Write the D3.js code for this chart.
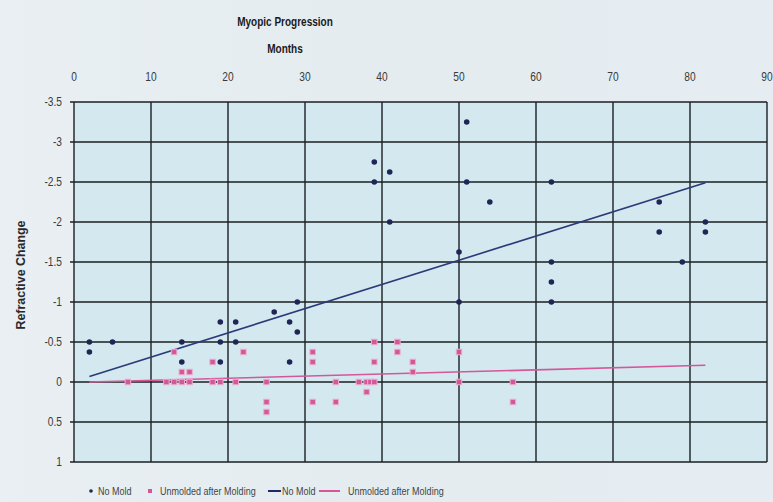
<!DOCTYPE html>
<html>
<head>
<meta charset="utf-8">
<script src="https://cdn.jsdelivr.net/npm/d3@7"></script>
<style>
  body {
    margin: 0;
    background: #e7eef2;
  }
  svg text {
    font-family: "Liberation Sans", Arial, sans-serif;
  }
</style>
</head>
<body>
<div id="chart"></div>
<script>
const monthTicks = [0, 10, 20, 30, 40, 50, 60, 70, 80, 90];
const changeTicks = [-3.5, -3, -2.5, -2, -1.5, -1, -0.5, 0, 0.5, 1];

// No Mold scatter
const noMoldMonths = [2, 2, 5, 14, 14, 19, 19, 19, 21, 21, 26, 28, 28, 29, 29,
  39, 39, 41, 41, 50, 50, 51, 51, 54, 62, 62, 62, 62, 76, 76, 79, 82, 82];
const noMoldChange = [-0.5, -0.375, -0.5, -0.5, -0.25, -0.75, -0.5, -0.25, -0.75, -0.5, -0.875, -0.75, -0.25, -1.0, -0.625,
  -2.75, -2.5, -2.625, -2.0, -1.625, -1.0, -3.25, -2.5, -2.25, -2.5, -1.5, -1.25, -1.0, -2.25, -1.875, -1.5, -2.0, -1.875];

// Unmolded after Molding scatter
const unmoldedMonths = [7, 12, 13, 13, 14, 14, 15, 15, 18, 18, 19, 21, 22, 25, 25, 25,
  31, 31, 31, 34, 34, 37, 38, 38.5, 39, 38, 39, 39, 42, 42, 44, 44, 50, 50, 57, 57];
const unmoldedChange = [0, 0, -0.375, 0, -0.125, 0, -0.125, 0, -0.25, 0, 0, 0, -0.375, 0, 0.25, 0.375,
  -0.375, -0.25, 0.25, 0, 0.25, 0, 0, 0, 0, 0.125, -0.5, -0.25, -0.5, -0.375, -0.25, -0.125, -0.375, 0, 0, 0.25];

// trend lines (start / end as drawn)
const noMoldTrendMonths = [2, 82];
const noMoldTrendChange = [-0.07, -2.49];
const unmoldedTrendMonths = [2, 82];
const unmoldedTrendChange = [0.0, -0.21];

const legendLabels = ["No Mold", "Unmolded after Molding", "No Mold", "Unmolded after Molding"];

const navy = "#1e2656";
const pink = "#d4579a";

// narrow text: the source font is a condensed sans, squeeze it horizontally
function narrowText(parent, x, y, str, size, anchor, weight, fill, sx) {
  return parent.append("text")
    .attr("transform", `translate(${x},${y}) scale(${sx || 0.8},1)`)
    .attr("text-anchor", anchor || "start")
    .style("font-size", size + "px")
    .style("font-weight", weight || "normal")
    .attr("fill", fill || "#3a3a3a")
    .text(str);
}

function init() {
  const W = 773, H = 502;
  const plot = { left: 74, right: 767, top: 102, bottom: 462 };

  const svg = d3.select("#chart")
    .append("svg")
    .attr("width", W)
    .attr("height", H);

  const defs = svg.append("defs");
  const grad = defs.append("linearGradient")
    .attr("id", "bg")
    .attr("x1", 0).attr("x2", 1).attr("y1", 0).attr("y2", 0);
  grad.append("stop").attr("offset", "0%").attr("stop-color", "#e9eff3");
  grad.append("stop").attr("offset", "50%").attr("stop-color", "#e4ecf0");
  grad.append("stop").attr("offset", "100%").attr("stop-color", "#e6edf2");
  svg.append("rect").attr("width", W).attr("height", H).attr("fill", "url(#bg)");

  const xScale = d3.scaleLinear().domain([0, 90]).range([plot.left, plot.right]);
  const yScale = d3.scaleLinear().domain([-3.5, 1]).range([plot.top, plot.bottom]);

  // plot area
  svg.append("rect")
    .attr("x", plot.left)
    .attr("y", plot.top)
    .attr("width", plot.right - plot.left)
    .attr("height", plot.bottom - plot.top)
    .attr("fill", "#d4e8ef");

  // grid
  svg.append("g")
    .selectAll("line")
    .data(monthTicks)
    .enter()
    .append("line")
    .attr("x1", (d) => xScale(d))
    .attr("x2", (d) => xScale(d))
    .attr("y1", plot.top)
    .attr("y2", plot.bottom)
    .attr("stroke", "#1b1f22")
    .attr("stroke-width", 1.4);

  svg.append("g")
    .selectAll("line")
    .data(changeTicks)
    .enter()
    .append("line")
    .attr("x1", plot.left - 4)
    .attr("x2", plot.right)
    .attr("y1", (d) => yScale(d))
    .attr("y2", (d) => yScale(d))
    .attr("stroke", "#1b1f22")
    .attr("stroke-width", 1.4);

  // tick labels
  const xLabels = svg.append("g");
  monthTicks.forEach((d) => narrowText(xLabels, xScale(d), 81, d, 12, "middle", "normal", "#3a3a3a", 0.85));

  const yLabels = svg.append("g");
  changeTicks.forEach((d) => narrowText(yLabels, 62, yScale(d) + 4, d, 12, "end", "normal", "#3a3a3a", 0.85));

  // titles
  narrowText(svg, 285, 26, "Myopic Progression", 13, "middle", "bold", "#1a1a1a", 0.77);
  narrowText(svg, 285, 53, "Months", 13, "middle", "bold", "#1a1a1a", 0.77);

  svg.append("text")
    .attr("transform", "translate(25, 275) rotate(-90) scale(0.92,1)")
    .attr("text-anchor", "middle")
    .style("font-size", "13.5px")
    .style("font-weight", "bold")
    .attr("fill", "#2a2a2a")
    .text("Refractive Change");

  // trend lines
  const line = d3.line()
    .x((d) => xScale(d[0]))
    .y((d) => yScale(d[1]));

  svg.append("path")
    .datum(unmoldedTrendMonths.map((m, i) => [m, unmoldedTrendChange[i]]))
    .attr("fill", "none")
    .attr("stroke", pink)
    .attr("stroke-width", 1.6)
    .attr("d", line);

  svg.append("path")
    .datum(noMoldTrendMonths.map((m, i) => [m, noMoldTrendChange[i]]))
    .attr("fill", "none")
    .attr("stroke", "#2b3a78")
    .attr("stroke-width", 1.6)
    .attr("d", line);

  // unmolded squares
  svg.append("g")
    .selectAll("rect")
    .data(unmoldedMonths.map((m, i) => [m, unmoldedChange[i]]))
    .enter()
    .append("rect")
    .attr("x", (d) => xScale(d[0]) - 2.75)
    .attr("y", (d) => yScale(d[1]) - 2.75)
    .attr("width", 5.5)
    .attr("height", 5.5)
    .attr("fill", pink)
    .attr("stroke", "#eab0cc")
    .attr("stroke-width", 1);

  // no mold dots
  svg.append("g")
    .selectAll("circle")
    .data(noMoldMonths.map((m, i) => [m, noMoldChange[i]]))
    .enter()
    .append("circle")
    .attr("cx", (d) => xScale(d[0]))
    .attr("cy", (d) => yScale(d[1]))
    .attr("r", 2.8)
    .attr("fill", navy);

  // legend
  const legend = svg.append("g").attr("transform", "translate(0, 495)");
  const markX = [91, 150, 268, 319];
  const markW = [0, 0, 13, 21];
  const textX = [98, 160, 282, 348];
  legendLabels.forEach((label, i) => {
    if (i === 0) {
      legend.append("circle").attr("cx", markX[i]).attr("cy", -4).attr("r", 1.8).attr("fill", navy);
    } else if (i === 1) {
      legend.append("rect").attr("x", markX[i] - 2).attr("y", -6).attr("width", 4).attr("height", 4).attr("fill", pink);
    } else {
      legend.append("line")
        .attr("x1", markX[i]).attr("x2", markX[i] + markW[i])
        .attr("y1", -4).attr("y2", -4)
        .attr("stroke", i === 2 ? "#1e2a66" : pink)
        .attr("stroke-width", 2);
    }
    narrowText(legend, textX[i], 0, label, 11, "start", "normal", "#444", 0.82);
  });
}

window.addEventListener("load", init);
</script>
</body>
</html>
